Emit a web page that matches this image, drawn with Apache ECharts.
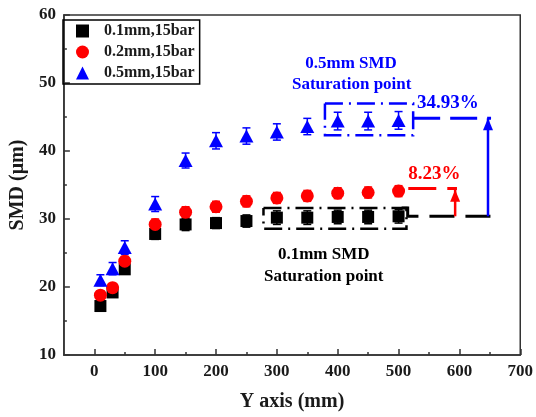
<!DOCTYPE html>
<html>
<head>
<meta charset="utf-8">
<script src="https://cdn.jsdelivr.net/npm/echarts@6/dist/echarts.min.js"></script>
<style>
  html, body { margin: 0; padding: 0; background: #fff; }
  #chart { width: 536px; height: 417px; }
</style>
</head>
<body>
<div id="chart"></div>
<script>
// Measurement positions along the Y axis (mm)
const positions = [10, 30, 50, 100, 150, 200, 250, 300, 350, 400, 450, 500];

// Sauter mean diameter (µm) for each nozzle diameter at 15 bar
const smd01 = [17.2, 19.2, 22.6, 27.8, 29.2, 29.4, 29.7, 30.2, 30.2, 30.3, 30.3, 30.4];
const smd02 = [18.8, 19.9, 23.8, 29.2, 31.0, 31.8, 32.6, 33.1, 33.4, 33.8, 33.9, 34.1];
const smd05 = [21.0, 22.7, 25.8, 32.2, 38.6, 41.5, 42.2, 42.8, 43.6, 44.4, 44.4, 44.5];

// Half-width of the error bars (µm)
const err01 = [0.6, 0.6, 0.7, 0.8, 0.9, 0.8, 0.9, 1.0, 1.0, 1.0, 1.0, 1.0];
const err02 = [0.6, 0.6, 0.7, 0.8, 0.8, 0.8, 0.8, 0.8, 0.8, 0.8, 0.8, 0.8];
const err05 = [0.8, 0.9, 1.0, 1.1, 1.1, 1.2, 1.2, 1.2, 1.2, 1.3, 1.3, 1.3];

const seriesNames = ['0.1mm,15bar', '0.2mm,15bar', '0.5mm,15bar'];

// Axis ticks
const xMajorTicks = [0, 100, 200, 300, 400, 500, 600, 700];
const xMinorTicks = [50, 150, 250, 350, 450, 550, 650];

// Saturation annotations (data units)
const blueBand = [379, 524, 42.3, 47.0];   // x0, x1, y0, y1
const blackBand = [278, 513, 28.55, 31.6];
const blueLevel = 44.8, redLevel = 34.5, blackLevel = 30.4;
const blueArrowX = 647, redArrowX = 593;
const blueIncrease = '34.93%', redIncrease = '8.23%';

const FONT = '"Liberation Serif", "Times New Roman", serif';
const BLUE = '#0000ff', RED = '#ff0000', BLACK = '#000000';

function pairs(ys) { return positions.map((x, i) => [x, ys[i]]); }
function errs(ys, es) { return positions.map((x, i) => [x, ys[i] - es[i], ys[i] + es[i]]); }

function errorSeries(ys, es, color) {
  return {
    type: 'custom',
    data: errs(ys, es),
    z: 2,
    silent: true,
    renderItem(params, api) {
      const x = api.value(0);
      const top = api.coord([x, api.value(2)]);
      const bot = api.coord([x, api.value(1)]);
      const c = 4;
      const style = { stroke: color, lineWidth: 1.5 };
      return {
        type: 'group',
        children: [
          { type: 'line', shape: { x1: top[0], y1: top[1], x2: bot[0], y2: bot[1] }, style },
          { type: 'line', shape: { x1: top[0] - c, y1: top[1], x2: top[0] + c, y2: top[1] }, style },
          { type: 'line', shape: { x1: bot[0] - c, y1: bot[1], x2: bot[0] + c, y2: bot[1] }, style }
        ]
      };
    }
  };
}

// A polyline in data coordinates, optionally ending in an arrowhead
function pathSeries(points, color, dash, width, arrow) {
  return {
    type: 'custom',
    data: [0],
    z: 3,
    silent: true,
    renderItem(params, api) {
      const pts = points.map(p => api.coord(p));
      const children = [{
        type: 'polyline',
        shape: { points: pts },
        style: { stroke: color, lineWidth: width, lineDash: dash, fill: null }
      }];
      if (arrow) {
        const tip = pts[pts.length - 1];
        children.push({
          type: 'polygon',
          shape: { points: [[tip[0], tip[1]], [tip[0] - 5, tip[1] + 12], [tip[0] + 5, tip[1] + 12]] },
          style: { fill: color }
        });
      }
      return { type: 'group', children };
    }
  };
}

function rectPath(b) {
  return [[b[0], b[3]], [b[1], b[3]], [b[1], b[2]], [b[0], b[2]], [b[0], b[3]]];
}

function textSeries(items) {
  return {
    type: 'custom',
    data: items.map((t, i) => [t.x, t.y, i]),
    z: 4,
    silent: true,
    renderItem(params, api) {
      const t = items[api.value(2)];
      const p = api.coord([api.value(0), api.value(1)]);
      return {
        type: 'text',
        x: p[0], y: p[1],
        style: {
          text: t.text, fill: t.color, align: 'center', verticalAlign: 'middle',
          font: 'bold ' + t.size + 'px ' + FONT
        }
      };
    }
  };
}

const chart = echarts.init(document.getElementById('chart'), null, { renderer: 'canvas' });

const axisLineStyle = { color: '#333', width: 1.5 };

chart.setOption({
  animation: false,
  backgroundColor: '#fff',
  grid: { left: 56, top: 15, right: 13, bottom: 61, show: true, borderColor: '#333', borderWidth: 1.5 },
  legend: {
    data: seriesNames,
    orient: 'vertical',
    left: 63, top: 20,
    borderColor: '#000', borderWidth: 1.5,
    padding: [3, 5, 3, 13],
    itemWidth: 13, itemHeight: 13, itemGap: 5,
    textStyle: { fontFamily: FONT, fontWeight: 'bold', fontSize: 16, color: '#1a1a1a', padding: [0, 0, 0, 10] }
  },
  xAxis: [{
    type: 'value', min: -50, max: 700, interval: 50,
    name: 'Y axis (mm)', nameLocation: 'middle', nameGap: 37,
    nameTextStyle: { fontFamily: FONT, fontWeight: 'bold', fontSize: 20, color: '#1a1a1a' },
    axisLine: { show: true, onZero: false, lineStyle: axisLineStyle },
    axisTick: { show: true, inside: true, length: 6, customValues: xMajorTicks, lineStyle: { width: 1.5, color: '#333' } },
    axisLabel: { customValues: xMajorTicks, margin: 8, fontFamily: FONT, fontWeight: 'bold', fontSize: 17, color: '#1a1a1a' },
    splitLine: { show: false }
  }, {
    type: 'value', min: -50, max: 700, position: 'bottom',
    axisLine: { show: false },
    axisTick: { show: true, inside: true, length: 3, customValues: xMinorTicks, lineStyle: { width: 1.5, color: '#333' } },
    axisLabel: { show: false },
    splitLine: { show: false }
  }],
  yAxis: {
    type: 'value', min: 10, max: 60, interval: 10,
    name: 'SMD (μm)', nameLocation: 'middle', nameGap: 31,
    nameTextStyle: { fontFamily: FONT, fontWeight: 'bold', fontSize: 20, color: '#1a1a1a' },
    axisLine: { show: true, onZero: false, lineStyle: axisLineStyle },
    axisTick: { show: true, inside: true, length: 6, lineStyle: { width: 1.5, color: '#333' } },
    minorTick: { show: true, splitNumber: 2, length: 3, lineStyle: { width: 1.5, color: '#333' } },
    axisLabel: { margin: 8, fontFamily: FONT, fontWeight: 'bold', fontSize: 17, color: '#1a1a1a' },
    splitLine: { show: false }
  },
  series: [
    errorSeries(smd01, err01, BLACK),
    errorSeries(smd02, err02, RED),
    errorSeries(smd05, err05, BLUE),
    { name: seriesNames[0], type: 'scatter', data: pairs(smd01), symbol: 'rect', symbolSize: 12, itemStyle: { color: BLACK, opacity: 1 }, z: 5 },
    { name: seriesNames[1], type: 'scatter', data: pairs(smd02), symbol: 'circle', symbolSize: 13, itemStyle: { color: RED, opacity: 1 }, z: 5 },
    { name: seriesNames[2], type: 'scatter', data: pairs(smd05), symbol: 'triangle', symbolSize: [14, 13], itemStyle: { color: BLUE, opacity: 1 }, z: 5 },

    // saturation bands
    pathSeries(rectPath(blueBand), BLUE, [18, 6, 2, 6], 2.5, false),
    pathSeries(rectPath(blackBand), BLACK, [18, 6, 2, 6], 2.5, false),

    // level lines and increase arrows
    pathSeries([[blueBand[1], blueLevel], [652, blueLevel]], BLUE, [27, 10], 3, false),
    pathSeries([[blackBand[1] - 8, blackBand[3]], [blackBand[1] + 2, blackBand[3]], [blackBand[1] + 2, blackLevel], [652, blackLevel]], BLACK, [25, 11], 3, false),
    pathSeries([[516, redLevel], [596, redLevel]], RED, [28, 11], 3, false),
    pathSeries([[blueArrowX, blackLevel], [blueArrowX, blueLevel]], BLUE, null, 2.5, true),
    pathSeries([[redArrowX, blackLevel], [redArrowX, redLevel - 0.2]], RED, null, 2.5, true),

    textSeries([
      { text: '0.5mm SMD', x: 422, y: 52.9, color: BLUE, size: 17 },
      { text: 'Saturation point', x: 423, y: 49.7, color: BLUE, size: 17 },
      { text: blueIncrease, x: 581, y: 47.1, color: BLUE, size: 19 },
      { text: redIncrease, x: 559, y: 36.6, color: RED, size: 19 },
      { text: '0.1mm SMD', x: 377, y: 24.8, color: BLACK, size: 17 },
      { text: 'Saturation point', x: 377, y: 21.6, color: BLACK, size: 17 }
    ])
  ]
});
</script>
</body>
</html>
